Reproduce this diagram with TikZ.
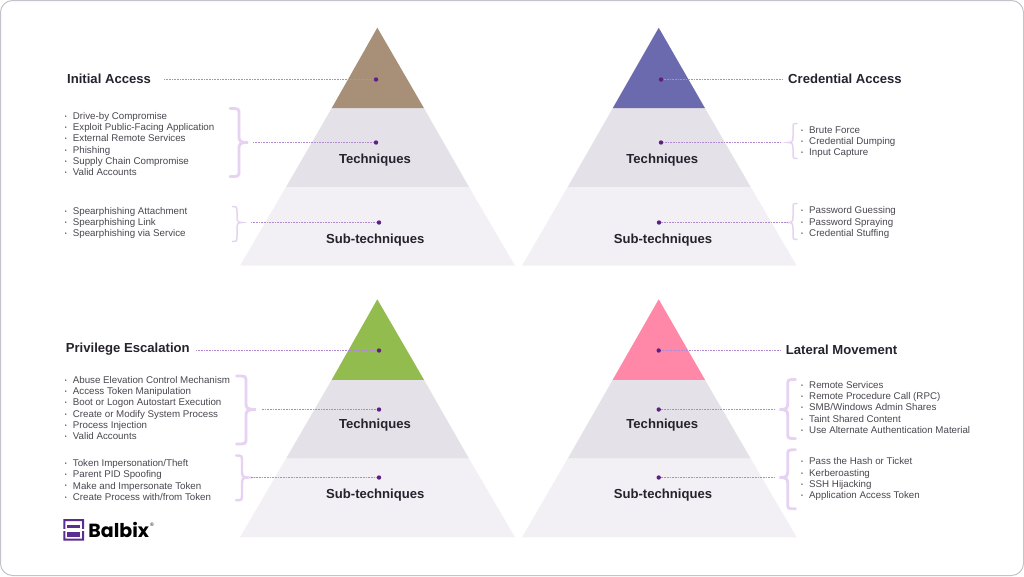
\documentclass[tikz,border=0pt]{standalone}
\usepackage{fontspec}
\setmainfont{Liberation Sans}
\newfontfamily\logofont{Poppins}
\definecolor{midgrey}{HTML}{E4E2E8}
\definecolor{lowgrey}{HTML}{F2F0F4}
\definecolor{ink}{HTML}{26222E}
\definecolor{bodyink}{HTML}{4A4650}
\definecolor{dotpurple}{HTML}{5E1E86}
\definecolor{linepurple}{HTML}{B08AD0}
\definecolor{bracepurple}{HTML}{E6D3F2}
\definecolor{frameline}{HTML}{C6C2CA}
\definecolor{capA}{HTML}{A88F78}
\definecolor{capB}{HTML}{6B6AAE}
\definecolor{capC}{HTML}{93BC4E}
\definecolor{capD}{HTML}{FF88A8}
\definecolor{logopurple}{HTML}{5A2D8E}
\tikzset{
  x=1pt,y=-1pt,
  heading/.style={font=\bfseries\fontsize{13.1}{15}\selectfont,text=ink,inner sep=0pt},
  itemlist/.style={font=\fontsize{9.75}{11.2}\selectfont,text=bodyink,inner sep=0pt,align=left,anchor=west},
  leader/.style={draw=linepurple,line width=1.1pt,dash pattern=on 1pt off 0.6pt},
  dot/.style={circle,fill=dotpurple,inner sep=0pt,minimum size=4.4pt},
  bracepath/.style={draw=bracepurple,line cap=round},
}
% [width] tip x, spine x, end x, top y, bottom y, tip y
\newcommand{\curly}[7][2.8pt]{%
  \draw[bracepath,line width=#1] (#4,#5) .. controls (#3,#5) and (#3,#5) .. (#3,#5+6)
    -- (#3,#7-7) .. controls (#3,#7-2) and (#3,#7) .. (#2,#7)
    .. controls (#3,#7) and (#3,#7+2) .. (#3,#7+7)
    -- (#3,#6-6) .. controls (#3,#6) and (#3,#6) .. (#4,#6);
}
% apex x, top-left x, top-right x, mid-left x, mid-right x, low-left x, low-right x, apex y, colour
\newcommand{\pyramid}[9]{%
  \fill[midgrey] (#2,#8+80.5) -- (#3,#8+80.5) -- (#5,#8+159.3) -- (#4,#8+159.3) -- cycle;
  \fill[lowgrey] (#4,#8+159.3) -- (#5,#8+159.3) -- (#7,#8+238) -- (#6,#8+238) -- cycle;
  \fill[#9] (#1,#8) -- (#3,#8+80.5) -- (#2,#8+80.5) -- cycle;
}
\newcommand{\bl}{\makebox[8pt][l]{\raisebox{1.1pt}{\fontsize{5.5}{5.5}\selectfont\textbullet}}}
\begin{document}
\begin{tikzpicture}
\useasboundingbox (0,0) rectangle (1024,576);
\fill[white] (0,0) rectangle (1024,576);
\draw[frameline,line width=1pt,rounded corners=12pt] (0.5,0.5) rectangle (1023.5,575.5);

\pyramid{377.3}{331.7}{424}{286}{469}{240}{515}{27.7}{capA}
\pyramid{658.7}{612.7}{705}{567.7}{750.7}{522}{796.7}{27.7}{capB}
\pyramid{377.3}{331.7}{424}{286}{469}{240}{515}{299.3}{capC}
\pyramid{658.7}{612.7}{705}{567.7}{750.7}{522}{796.7}{299.3}{capD}

% braces
\curly{248}{239}{230}{108.5}{176.5}{142.5}
\curly[1.5pt]{242}{237}{232.5}{206.5}{241.5}{222.5}
\curly[1.5pt]{788}{793}{797}{123.5}{158.5}{142.5}
\curly[1.5pt]{788}{793}{797}{203.5}{239.5}{222.5}
\curly{256}{246}{236.5}{376}{444}{409.5}
\curly[2.4pt]{248}{242}{236}{455.5}{500.2}{477.5}
\curly{779.3}{787.7}{795.5}{379.5}{438.5}{409.5}
\curly{779.3}{787.7}{795.5}{449.8}{508.8}{477.5}

% dots
\node[dot] (d1a) at (376,79.5) {};
\node[dot] (d1b) at (376,142.5) {};
\node[dot] (d1c) at (379,222.5) {};
\node[dot] (d2a) at (661,79.5) {};
\node[dot] (d2b) at (661,142.5) {};
\node[dot] (d2c) at (659,222.5) {};
\node[dot] (d3a) at (379,350.5) {};
\node[dot] (d3b) at (379,409.5) {};
\node[dot] (d3c) at (379,477.5) {};
\node[dot] (d4a) at (658.7,350.5) {};
\node[dot] (d4b) at (658.7,409.5) {};
\node[dot] (d4c) at (658.7,477.5) {};

% leader free ends
\coordinate (e1a) at (164,79.5);
\coordinate (e1b) at (253,142.5);
\coordinate (e1c) at (251,222.5);
\coordinate (e2a) at (783,79.5);
\coordinate (e2b) at (781,142.5);
\coordinate (e2c) at (788,222.5);
\coordinate (e3a) at (196,350.5);
\coordinate (e3b) at (261.7,409.5);
\coordinate (e3c) at (250.7,477.5);
\coordinate (e4a) at (781,350.5);
\coordinate (e4b) at (775,409.5);
\coordinate (e4c) at (775,477.5);
\foreach \n in {1a,1b,1c,2a,2b,2c,3a,3b,3c,4a,4b,4c}{
  \draw[leader] (e\n) -- (d\n);
}

% headings
\node[heading,anchor=west] (h1) at (67,78.8) {Initial Access};
\node[heading,anchor=west] (h2) at (788,78.8) {Credential Access};
\node[heading,anchor=west] (h3) at (65.7,349.4) {Privilege Escalation};
\node[heading,anchor=west] (h4) at (785.7,349.4) {Lateral Movement};
% level names
\node[heading] (t1) at (375,160.2) {Techniques};
\node[heading] (s1) at (375.3,240.5) {Sub-techniques};
\node[heading] (t2) at (662.3,160.2) {Techniques};
\node[heading] (s2) at (663,240.5) {Sub-techniques};
\node[heading] (t3) at (375,425.2) {Techniques};
\node[heading] (s3) at (375.3,495.5) {Sub-techniques};
\node[heading] (t4) at (662.3,425.2) {Techniques};
\node[heading] (s4) at (663,495.5) {Sub-techniques};

% lists
\node[itemlist] (l1a) at (64.7,144.1) {\bl Drive-by Compromise\\\bl Exploit Public-Facing Application\\\bl External Remote Services\\\bl Phishing\\\bl Supply Chain Compromise\\\bl Valid Accounts};
\node[itemlist] (l1b) at (64.7,223.1) {\bl Spearphishing Attachment\\\bl Spearphishing Link\\\bl Spearphishing via Service};
\node[itemlist] (l2a) at (801,142.1) {\bl Brute Force\\\bl Credential Dumping\\\bl Input Capture};
\node[itemlist] (l2b) at (801,222.6) {\bl Password Guessing\\\bl Password Spraying\\\bl Credential Stuffing};
\node[itemlist] (l3a) at (64.7,408.1) {\bl Abuse Elevation Control Mechanism\\\bl Access Token Manipulation\\\bl Boot or Logon Autostart Execution\\\bl Create or Modify System Process\\\bl Process Injection\\\bl Valid Accounts};
\node[itemlist] (l3b) at (64.7,480) {\bl Token Impersonation/Theft\\\bl Parent PID Spoofing\\\bl Make and Impersonate Token\\\bl Create Process with/from Token};
\node[itemlist] (l4a) at (801,407.5) {\bl Remote Services\\\bl Remote Procedure Call (RPC)\\\bl SMB/Windows Admin Shares\\\bl Taint Shared Content\\\bl Use Alternate Authentication Material};
\node[itemlist] (l4b) at (801,479.2) {\bl Pass the Hash or Ticket\\\bl Kerberoasting\\\bl SSH Hijacking\\\bl Application Access Token};

% logo
\fill[logopurple,even odd rule] (63.3,519) rectangle (84,540.7) (65.3,521) rectangle (82,538.7);
\fill[white] (63,529) rectangle (66,530.5);
\fill[white] (81.5,529) rectangle (84.5,530.5);
\fill[logopurple] (67.3,524.8) rectangle (80,528.3);
\fill[logopurple] (67.3,532) rectangle (80,536.7);
\node[inner sep=0pt,anchor=west,font=\logofont\bfseries\fontsize{19}{20}\selectfont,text=black] (logo) at (88.2,530) {Balbix};
\node[inner sep=0pt,font=\fontsize{5}{5}\selectfont,text=black] (reg) at (152,524.3) {®};
\end{tikzpicture}
\end{document}
